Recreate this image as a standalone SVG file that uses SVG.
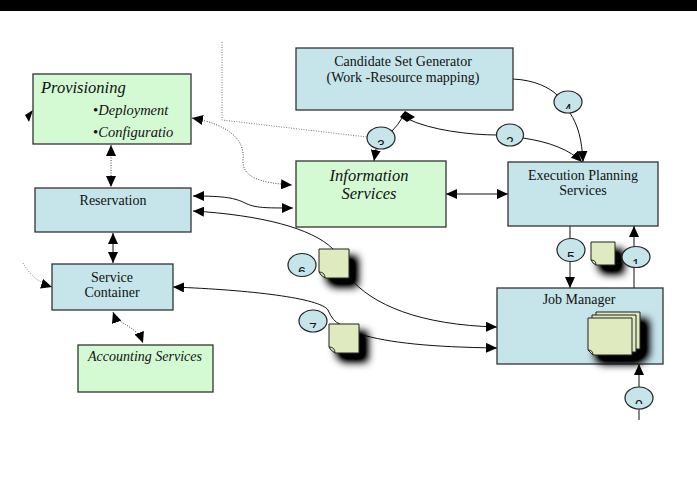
<svg xmlns="http://www.w3.org/2000/svg" width="697" height="478" viewBox="0 0 697 478">
<style>
.blue{fill:#c6e5ea;stroke:#333;stroke-width:1.3}
.green{fill:#d4fad4;stroke:#333;stroke-width:1.3}
.t{font-family:"Liberation Serif","Times New Roman",serif;font-size:14px;fill:#111}
.ti{font-family:"Liberation Serif","Times New Roman",serif;font-style:italic;fill:#111}
.c{fill:none;stroke:#111;stroke-width:1}
.d{fill:none;stroke:#444;stroke-width:1;stroke-dasharray:1 1.5}
.g{fill:none;stroke:#777;stroke-width:1;stroke-dasharray:1 1.5}
.lbl{fill:#c6e5ea;stroke:#222;stroke-width:1.2}
.num{font-family:"Liberation Sans",Arial,sans-serif;font-size:14px;fill:#111;text-anchor:middle}
.doc{fill:#dfeabf;stroke:#222;stroke-width:1}
</style>
<defs>
<marker id="ah" viewBox="0 0 11 10" refX="11" refY="5" markerWidth="11" markerHeight="10" markerUnits="userSpaceOnUse" orient="auto-start-reverse">
<path d="M0,0 L11,5 L0,10 z" fill="#000"/>
</marker>
<filter id="sh" x="-50%" y="-50%" width="220%" height="220%">
<feGaussianBlur in="SourceAlpha" stdDeviation="4.5"/>
<feOffset dx="8" dy="8" result="b"/>
<feComponentTransfer in="b" result="b2"><feFuncA type="linear" slope="1.4"/></feComponentTransfer>
<feMerge><feMergeNode in="b2"/><feMergeNode in="SourceGraphic"/></feMerge>
</filter>
<clipPath id="k3"><rect x="360" y="120" width="40" height="25"/></clipPath>
<clipPath id="k2"><rect x="490" y="117" width="40" height="25"/></clipPath>
<clipPath id="k4"><rect x="550" y="85" width="40" height="24"/></clipPath>
<clipPath id="k5"><rect x="550" y="235" width="40" height="22"/></clipPath>
<clipPath id="k1"><rect x="615" y="243" width="40" height="21"/></clipPath>
<clipPath id="k6"><rect x="280" y="250" width="40" height="22"/></clipPath>
<clipPath id="k7"><rect x="295" y="306" width="40" height="22"/></clipPath>
<clipPath id="k0"><rect x="620" y="384" width="40" height="20"/></clipPath>
</defs>

<rect x="0" y="0" width="697" height="11" fill="#000"/>

<g id="connectors">
<path class="g" d="M222,42 V120 L367,137"/>
<path class="d" d="M192,118 C230,125 245,140 243,160 C242,178 262,183 292,185" marker-start="url(#ah)" marker-end="url(#ah)"/>
<path class="d" d="M111,145 V187" marker-start="url(#ah)" marker-end="url(#ah)"/>
<polygon points="33,110 25,115 29,122" fill="#000"/>
<path class="c" d="M193,196 C225,196 235,198 245,203 C255,208 265,208 293,208" marker-start="url(#ah)" marker-end="url(#ah)"/>
<path class="c" d="M193,211 C260,215 312,228 333,249" marker-start="url(#ah)"/>
<path class="c" d="M349,277 C372,305 420,325 497,327" marker-end="url(#ah)"/>
<path class="c" d="M113,233 V263" marker-start="url(#ah)" marker-end="url(#ah)"/>
<path class="g" d="M23,263 Q33,281 52,287" marker-end="url(#ah)"/>
<path class="c" d="M173,287 C250,290 320,298 328,310 Q333,322 340,324" marker-start="url(#ah)"/>
<path class="c" d="M359,334 C390,343 430,347 497,348" marker-end="url(#ah)"/>
<path class="d" d="M113,312 C118,326 136,324 143,343" marker-start="url(#ah)" marker-end="url(#ah)"/>
<path class="c" d="M446,194 H508" marker-start="url(#ah)" marker-end="url(#ah)"/>
<path class="c" d="M376,149 L374,161" marker-end="url(#ah)"/>
<path class="c" d="M392,131 Q398,125 402,118"/>
<polygon points="405,111 415,117 407,122 400,117" fill="#000"/>
<path class="c" d="M408,119 C430,130 470,135 497,135"/>
<path class="c" d="M523,138 C550,142 570,150 582,162" marker-end="url(#ah)"/>
<path class="c" d="M513,79 C535,80 550,88 557,95"/>
<path class="c" d="M570,113 C578,125 582,140 583,162" marker-end="url(#ah)"/>
<path class="c" d="M570,215 V288" marker-end="url(#ah)"/>
<path class="c" d="M634,288 V226" marker-end="url(#ah)"/>
<path class="c" d="M639,420 V364" marker-end="url(#ah)"/>
</g>

<g id="provisioning">
<rect class="green" x="33" y="74" width="158" height="70"/>
<text class="ti" x="41" y="93" font-size="16.5">Provisioning</text>
<text class="ti" x="93" y="115" font-size="14.5"><tspan font-style="normal" font-size="15">•</tspan>Deployment</text>
<text class="ti" x="93" y="137" font-size="14.5"><tspan font-style="normal" font-size="15">•</tspan>Configuratio</text>
</g>
<g id="reservation">
<rect class="blue" x="35" y="188" width="156" height="44"/>
<text class="t" x="113" y="205" text-anchor="middle">Reservation</text>
</g>
<g id="service-container">
<rect class="blue" x="52" y="264" width="121" height="46"/>
<text class="t" x="112" y="282" text-anchor="middle">Service</text>
<text class="t" x="112" y="297" text-anchor="middle">Container</text>
</g>
<g id="accounting">
<rect class="green" x="78" y="345" width="135" height="47"/>
<text class="ti" x="145" y="361" font-size="14" text-anchor="middle">Accounting Services</text>
</g>
<g id="candidate">
<rect class="blue" x="296" y="48" width="217" height="62"/>
<text class="t" x="403" y="66" text-anchor="middle">Candidate Set Generator</text>
<text class="t" x="403" y="82" text-anchor="middle">(Work -Resource mapping)</text>
</g>
<g id="information">
<rect class="green" x="296" y="161" width="150" height="66"/>
<text class="ti" x="369" y="181" font-size="16.5" text-anchor="middle">Information</text>
<text class="ti" x="369" y="199" font-size="16.5" text-anchor="middle">Services</text>
</g>
<g id="execution">
<rect class="blue" x="508" y="162" width="150" height="64"/>
<text class="t" x="583" y="180" text-anchor="middle">Execution Planning</text>
<text class="t" x="583" y="195" text-anchor="middle">Services</text>
</g>
<g id="job-manager">
<rect class="blue" x="497" y="288" width="166" height="76"/>
<text class="t" x="579" y="304" text-anchor="middle">Job Manager</text>
<g filter="url(#sh)">
<path class="doc" d="M596,312 H640 V349 H601 L596,344 Z"/>
<path class="doc" d="M592,315 H636 V352 H597 L592,347 Z"/>
<path class="doc" d="M588,318 H632 V355 H593 L588,350 Z"/>
</g>
<path class="doc" d="M588,350 Q593,350 593,355 L590,352 Z"/>
</g>

<g id="documents">
<g filter="url(#sh)">
<path class="doc" d="M319,249 H349 V278 H325 L319,272 Z"/>
<path class="doc" d="M329,324 H359 V353 H335 L329,347 Z"/>
<path class="doc" d="M591,242 H615 V265 H596 L591,260 Z"/>
</g>
<path class="doc" d="M319,272 Q325,272 325,278 L321,275 Z"/>
<path class="doc" d="M329,347 Q335,347 335,353 L331,350 Z"/>
<path class="doc" d="M591,260 Q596,260 596,265 L593,263 Z"/>
</g>

<g id="labels">
<ellipse class="lbl" cx="381" cy="138" rx="14" ry="11"/>
<text class="num" x="381" y="150" clip-path="url(#k3)">3</text>
<ellipse class="lbl" cx="510" cy="135" rx="13.5" ry="11"/>
<text class="num" x="510" y="147" clip-path="url(#k2)">2</text>
<ellipse class="lbl" cx="568" cy="102" rx="14" ry="11"/>
<text class="num" x="568" y="114" clip-path="url(#k4)">4</text>
<ellipse class="lbl" cx="571" cy="250" rx="14" ry="11.5"/>
<text class="num" x="571" y="262" clip-path="url(#k5)">5</text>
<ellipse class="lbl" cx="636" cy="257" rx="14" ry="10.5"/>
<text class="num" x="636" y="269" clip-path="url(#k1)">1</text>
<ellipse class="lbl" cx="302" cy="265" rx="14" ry="11.5"/>
<text class="num" x="302" y="277" clip-path="url(#k6)">6</text>
<ellipse class="lbl" cx="313" cy="321" rx="14" ry="11"/>
<text class="num" x="313" y="333" clip-path="url(#k7)">7</text>
<ellipse class="lbl" cx="639" cy="398" rx="14" ry="11"/>
<text class="num" x="639" y="410" clip-path="url(#k0)">0</text>
</g>
</svg>
